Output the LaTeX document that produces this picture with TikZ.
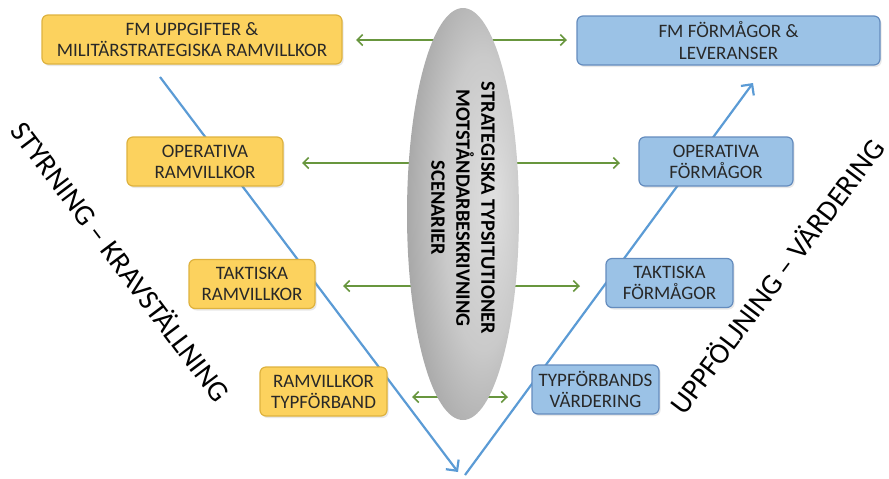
\documentclass[tikz,border=0pt]{standalone}
\usepackage{fontspec}
\setmainfont{Carlito}
\usetikzlibrary{arrows.meta,shapes.geometric,shadows}

% 定义颜色
\definecolor{ramgul}{RGB}{252,210,94}
\definecolor{ramkant}{RGB}{222,178,62}
\definecolor{formbla}{RGB}{155,194,230}
\definecolor{formkant}{RGB}{100,140,190}
\definecolor{pilgron}{RGB}{104,150,62}
\definecolor{vbla}{RGB}{91,155,213}
\definecolor{rutatext}{RGB}{40,40,40}

% 椭圆的渐变
\pgfdeclareradialshading{scenshade}{\pgfpoint{14bp}{2bp}}{color(0bp)=(gray!25); color(18bp)=(gray!42); color(42bp)=(black!46); color(50bp)=(black!48)}

\tikzset{
  ruta/.style={rounded corners=3pt, inner sep=0pt, minimum height=24.5pt, align=center, text=rutatext, font=\fontsize{9.5}{10.6}\selectfont, line width=0.6pt, drop shadow={opacity=0.18, shadow xshift=0.8pt, shadow yshift=-1pt}},
  ramruta/.style={ruta, fill=ramgul, draw=ramkant},
  formruta/.style={ruta, fill=formbla, draw=formkant},
  gronpil/.style={pilgron, line width=0.8pt, {Straight Barb[length=2.8pt,width=5.5pt]}-{Straight Barb[length=2.8pt,width=5.5pt]}},
  vpil/.style={vbla, line width=1.1pt, -{Straight Barb[length=4pt,width=8pt]}},
  rubrik/.style={font=\fontsize{14.6}{18}\selectfont},
}

\begin{document}
\begin{tikzpicture}[x=0.5pt,y=-0.5pt]
\useasboundingbox (0,0) rectangle (889,478);

% 绿色双向箭头
\foreach \i/\y/\xl/\xr in {1/40/356/567, 2/163/302/620, 3/286/343/580, 4/397/412/508} {
    \coordinate (gl\i) at (\xl,\y);
    \coordinate (gr\i) at (\xr,\y);
    \draw[gronpil] (gl\i) -- (gr\i);
}

% V形的两条线
\coordinate (vtop) at (160,77);
\coordinate (vbot) at (458,472);
\coordinate (hbot) at (465,475);
\coordinate (htop) at (753,83);
\draw[vpil] (vtop) -- (vbot);
\draw[vpil] (hbot) -- (htop);

% 椭圆
\node[ellipse, shading=scenshade, minimum width=56pt, minimum height=206pt, inner sep=0pt] (scen) at (463,214) {};
\node[rotate=-90, align=center, font=\bfseries\fontsize{10.2}{12.5}\selectfont] (scentext) at (463,208) {STRATEGISKA TYPSITUTIONER\\MOTSTÅNDARBESKRIVNING\\SCENARIER};

% 左边的方框
\foreach \namn/\x/\y/\w/\txt in {fmupp/192/39.5/150/{FM UPPGIFTER \&\\MILITÄRSTRATEGISKA RAMVILLKOR},
    opram/205/161.5/78/{OPERATIVA\\RAMVILLKOR},
    takram/252/284/63/{TAKTISKA\\RAMVILLKOR},
    typram/323.5/391.5/63.5/{RAMVILLKOR\\TYPFÖRBAND}} {
    \node[ramruta, minimum width=\w pt] (\namn) at (\x,\y) {\txt};
}

% 右边的方框
\foreach \namn/\x/\y/\w/\txt in {fmform/728.5/40.5/151.5/{FM FÖRMÅGOR \&\\LEVERANSER},
    opform/716/161.5/77/{OPERATIVA\\FÖRMÅGOR},
    takform/669.5/283/63.5/{TAKTISKA\\FÖRMÅGOR},
    typvard/595.5/389.5/63.5/{TYPFÖRBANDS\\VÄRDERING}} {
    \node[formruta, minimum width=\w pt] (\namn) at (\x,\y) {\txt};
}

% 斜的标题
\node[rubrik, rotate=-53] (styr) at (122,261) {STYRNING – KRAVSTÄLLNING};
\node[rubrik, rotate=53] (uppf) at (776,276) {UPPFÖLJNING – VÄRDERING};

\end{tikzpicture}
\end{document}
